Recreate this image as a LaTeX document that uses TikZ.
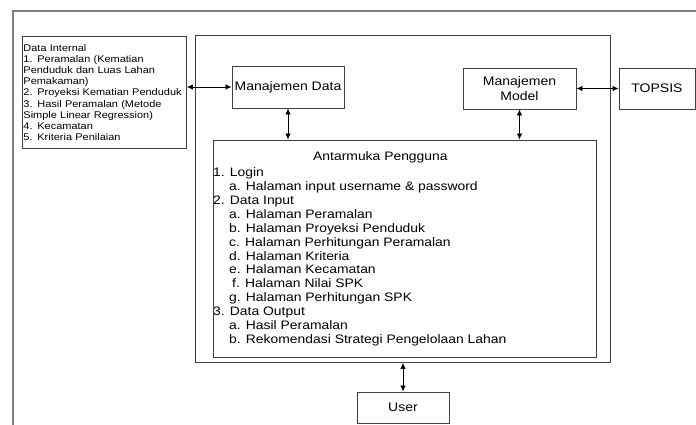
\documentclass[tikz,border=0pt]{standalone}
\usepackage{fontspec}
\setmainfont{Liberation Sans}[FakeStretch=1.13]
\usetikzlibrary{arrows.meta}
\begin{document}
\begin{tikzpicture}[x=1pt,y=-1pt,
  box/.style={draw=black!75, line width=0.9pt, inner sep=0pt, align=center,
    font=\fontsize{12.4}{14.3}\selectfont},
  frameline/.style={draw=black!50, line width=1.6pt},
  link/.style={{Latex[length=6pt,width=5.5pt]}-{Latex[length=6pt,width=5.5pt]}, line width=0.8pt, black},
  uitext/.style={inner sep=0pt, align=left, font=\fontsize{12.3}{13.9}\selectfont}]
\useasboundingbox (0,0) rectangle (696,425);
% outer frame (only left and top sides visible)
\coordinate (fbl) at (13,425);
\coordinate (ftl) at (13,11);
\coordinate (ftr) at (696,11);
\draw[frameline] (fbl) -- (ftl) -- (ftr);
% system box
\node[box, minimum width=415, minimum height=327, anchor=north west] (sys) at (195,35) {};
% data internal
\node[box, anchor=north west, minimum width=164, minimum height=112, text width=162,
  inner xsep=1pt, align=left, font=\fontsize{9.7}{11.2}\selectfont] (datain) at (22,36)
  {Data Internal\\
   1. Peramalan (Kematian\\
   Penduduk dan Luas Lahan\\
   Pemakaman)\\
   2. Proyeksi Kematian Penduduk\\
   3. Hasil Peramalan (Metode\\
   Simple Linear Regression)\\
   4. Kecamatan\\
   5. Kriteria Penilaian};
\node[box, minimum width=112, minimum height=42] (mdata) at (288,87) {Manajemen Data};
\node[box, minimum width=113, minimum height=41] (mmodel) at (519.5,88.5) {Manajemen\\Model};
\node[box, minimum width=76, minimum height=41] (topsis) at (657,88.5) {TOPSIS};
\node[box, minimum width=383, minimum height=217] (ui) at (404.5,248.5) {};
\node[uitext, anchor=west] (uititle) at (313,157) {Antarmuka Pengguna};
\node[uitext, anchor=north west] (uilist) at (213,167.5)
  {1. Login\\
   \hspace*{16pt}a. Halaman input username \& password\\
   2. Data Input\\
   \hspace*{16pt}a. Halaman Peramalan\\
   \hspace*{16pt}b. Halaman Proyeksi Penduduk\\
   \hspace*{16pt}c. Halaman Perhitungan Peramalan\\
   \hspace*{16pt}d. Halaman Kriteria\\
   \hspace*{16pt}e. Halaman Kecamatan\\
   \hspace*{19pt}f. Halaman Nilai SPK\\
   \hspace*{16pt}g. Halaman Perhitungan SPK\\
   3. Data Output\\
   \hspace*{16pt}a. Hasil Peramalan\\
   \hspace*{16pt}b. Rekomendasi Strategi Pengelolaan Lahan};
\node[box, minimum width=92, minimum height=31] (user) at (403,407.5) {User};
% connectors
\draw[link] (datain.east |- mdata.west) -- (mdata.west);
\draw[link] (mdata.south) -- (mdata.south |- ui.north);
\draw[link] (mmodel.south) -- (mmodel.south |- ui.north);
\draw[link] (mmodel.east) -- (topsis.west);
\draw[link] (user.north |- sys.south) -- (user.north);
\end{tikzpicture}
\end{document}
